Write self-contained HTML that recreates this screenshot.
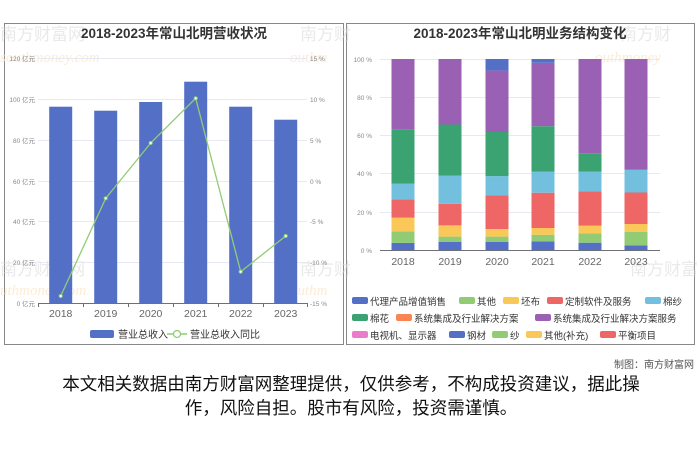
<!DOCTYPE html>
<html><head><meta charset="utf-8"><style>
html,body{margin:0;padding:0;background:#fff;}
svg{display:block;font-family:"Liberation Sans","Noto Sans CJK SC",sans-serif;}
</style></head><body>
<svg width="700" height="467" viewBox="0 0 700 467">
<rect width="700" height="467" fill="#fff"/>
<rect x="4.5" y="23.5" width="339" height="321" fill="#fff" stroke="#888" stroke-width="1"/>
<rect x="346.5" y="23.5" width="348" height="321" fill="#fff" stroke="#888" stroke-width="1"/>
<g fill="#d8d8d8" font-size="17" opacity="0.55">
<text x="0" y="40">南方财富网</text><text x="300" y="40">南方财</text><text x="620" y="40">南方财</text>
<text x="0" y="275">南方财富网</text><text x="300" y="275">南方财</text><text x="630" y="275">南方财富</text>
</g>
<g fill="#fbe3c4" font-size="15" font-style="italic" font-family="Liberation Serif,serif" opacity="0.7">
<text x="0" y="62">southmoney.com</text><text x="290" y="62">outhm</text><text x="595" y="62">outhmoney</text>
<text x="0" y="295">uthmoney.com</text><text x="290" y="295">outhm</text>
</g>
<text x="174" y="38" text-anchor="middle" font-size="13.5" font-weight="bold" fill="#333">2018-2023年常山北明营收状况</text>
<text x="520" y="38" text-anchor="middle" font-size="13.5" font-weight="bold" fill="#333">2018-2023年常山北明业务结构变化</text>
<g stroke="#e6e9f2" stroke-width="1">
<line x1="38" y1="58.5" x2="307" y2="58.5"/><line x1="38" y1="99.5" x2="307" y2="99.5"/>
<line x1="38" y1="140.5" x2="307" y2="140.5"/><line x1="38" y1="181.5" x2="307" y2="181.5"/>
<line x1="38" y1="221.5" x2="307" y2="221.5"/><line x1="38" y1="262.5" x2="307" y2="262.5"/>
</g>
<g font-size="6.5" fill="#888" text-anchor="end">
<text x="35" y="61">120 亿元</text><text x="35" y="102">100 亿元</text><text x="35" y="143">80 亿元</text>
<text x="35" y="184">60 亿元</text><text x="35" y="224">40 亿元</text><text x="35" y="265">20 亿元</text><text x="35" y="306">0 亿元</text>
</g>
<g font-size="6.5" fill="#888">
<text x="310" y="61">15 %</text><text x="310" y="102">10 %</text><text x="310" y="143">5 %</text>
<text x="310" y="184">0 %</text><text x="310" y="224">-5 %</text><text x="310" y="265">-10 %</text><text x="310" y="306">-15 %</text>
</g>
<g fill="#5470c6">
<rect x="49.2" y="106.7" width="23" height="196.3"/>
<rect x="94.2" y="110.7" width="23" height="192.3"/>
<rect x="139.2" y="102" width="23" height="201"/>
<rect x="184.2" y="81.7" width="23" height="221.3"/>
<rect x="229.2" y="106.7" width="23" height="196.3"/>
<rect x="274.2" y="119.7" width="23" height="183.3"/>
</g>
<line x1="38" y1="303.5" x2="307" y2="303.5" stroke="#6e7079"/>
<g stroke="#6e7079"><line x1="38.5" y1="303" x2="38.5" y2="307"/><line x1="83.5" y1="303" x2="83.5" y2="307"/><line x1="128.5" y1="303" x2="128.5" y2="307"/><line x1="173.5" y1="303" x2="173.5" y2="307"/><line x1="218.5" y1="303" x2="218.5" y2="307"/><line x1="263.5" y1="303" x2="263.5" y2="307"/><line x1="307.5" y1="303" x2="307.5" y2="307"/></g>
<polyline points="60.7,296 105.7,198.3 150.7,143 195.7,98.3 240.7,271.7 285.7,236" fill="none" stroke="#91cc75" stroke-width="1.3"/>
<g fill="#fff" stroke="#91cc75" stroke-width="1"><circle cx="60.7" cy="296" r="1.6"/><circle cx="105.7" cy="198.3" r="1.6"/><circle cx="150.7" cy="143" r="1.6"/><circle cx="195.7" cy="98.3" r="1.6"/><circle cx="240.7" cy="271.7" r="1.6"/><circle cx="285.7" cy="236" r="1.6"/></g>
<g font-size="10.5" fill="#666" text-anchor="middle">
<text x="60.7" y="317">2018</text><text x="105.7" y="317">2019</text><text x="150.7" y="317">2020</text><text x="195.7" y="317">2021</text><text x="240.7" y="317">2022</text><text x="285.7" y="317">2023</text>
</g>
<rect x="90" y="330" width="24" height="8" rx="2" fill="#5470c6"/>
<text x="118" y="338" font-size="10" fill="#333">营业总收入</text>
<line x1="167" y1="334" x2="187" y2="334" stroke="#91cc75" stroke-width="1.5"/><circle cx="177" cy="334" r="3.5" fill="#fff" stroke="#91cc75" stroke-width="1.3"/>
<text x="190" y="338" font-size="10" fill="#333">营业总收入同比</text>
<g stroke="#e6e9f2"><line x1="380" y1="59.5" x2="660" y2="59.5"/><line x1="380" y1="97.5" x2="660" y2="97.5"/><line x1="380" y1="135.5" x2="660" y2="135.5"/><line x1="380" y1="173.5" x2="660" y2="173.5"/><line x1="380" y1="212.5" x2="660" y2="212.5"/></g>
<g font-size="6.5" fill="#888" text-anchor="end">
<text x="372" y="62">100 %</text><text x="372" y="100">80 %</text><text x="372" y="138">60 %</text><text x="372" y="176">40 %</text><text x="372" y="215">20 %</text><text x="372" y="253">0 %</text>
</g>
<g>
<rect x="391.5" y="242.9" width="23" height="7.1" fill="#5470c6"/>
<rect x="391.5" y="231.3" width="23" height="11.6" fill="#91cc75"/>
<rect x="391.5" y="217.7" width="23" height="13.6" fill="#fac858"/>
<rect x="391.5" y="199.4" width="23" height="18.3" fill="#ee6666"/>
<rect x="391.5" y="183.7" width="23" height="15.7" fill="#73c0de"/>
<rect x="391.5" y="129.7" width="23" height="54" fill="#3ba272"/>
<rect x="391.5" y="59" width="23" height="70.7" fill="#9a60b4"/>
</g>
<g>
<rect x="438.5" y="242" width="23" height="8" fill="#5470c6"/>
<rect x="438.5" y="236.6" width="23" height="5.4" fill="#91cc75"/>
<rect x="438.5" y="225.4" width="23" height="11.2" fill="#fac858"/>
<rect x="438.5" y="203.8" width="23" height="21.6" fill="#ee6666"/>
<rect x="438.5" y="175.7" width="23" height="28.1" fill="#73c0de"/>
<rect x="438.5" y="124.5" width="23" height="51.2" fill="#3ba272"/>
<rect x="438.5" y="59" width="23" height="65.5" fill="#9a60b4"/>
</g>
<g>
<rect x="485.5" y="242" width="23" height="8" fill="#5470c6"/>
<rect x="485.5" y="236.6" width="23" height="5.4" fill="#91cc75"/>
<rect x="485.5" y="229" width="23" height="7.6" fill="#fac858"/>
<rect x="485.5" y="195.2" width="23" height="33.8" fill="#ee6666"/>
<rect x="485.5" y="176.1" width="23" height="19.1" fill="#73c0de"/>
<rect x="485.5" y="132" width="23" height="44.1" fill="#3ba272"/>
<rect x="485.5" y="70.6" width="23" height="61.4" fill="#9a60b4"/>
<rect x="485.5" y="59" width="23" height="11.6" fill="#5470c6"/>
</g>
<g>
<rect x="531.5" y="241.4" width="23" height="8.6" fill="#5470c6"/>
<rect x="531.5" y="234.7" width="23" height="6.7" fill="#91cc75"/>
<rect x="531.5" y="228" width="23" height="6.7" fill="#fac858"/>
<rect x="531.5" y="192.7" width="23" height="35.3" fill="#ee6666"/>
<rect x="531.5" y="171.7" width="23" height="21" fill="#73c0de"/>
<rect x="531.5" y="126.2" width="23" height="45.5" fill="#3ba272"/>
<rect x="531.5" y="62.8" width="23" height="63.4" fill="#9a60b4"/>
<rect x="531.5" y="59" width="23" height="3.8" fill="#5470c6"/>
</g>
<g>
<rect x="578.5" y="242.7" width="23" height="7.3" fill="#5470c6"/>
<rect x="578.5" y="233.4" width="23" height="9.3" fill="#91cc75"/>
<rect x="578.5" y="225.7" width="23" height="7.7" fill="#fac858"/>
<rect x="578.5" y="191.2" width="23" height="34.5" fill="#ee6666"/>
<rect x="578.5" y="171.7" width="23" height="19.5" fill="#73c0de"/>
<rect x="578.5" y="153.2" width="23" height="18.5" fill="#3ba272"/>
<rect x="578.5" y="59" width="23" height="94.2" fill="#9a60b4"/>
</g>
<g>
<rect x="624.5" y="245.4" width="23" height="4.6" fill="#5470c6"/>
<rect x="624.5" y="231.7" width="23" height="13.7" fill="#91cc75"/>
<rect x="624.5" y="224" width="23" height="7.7" fill="#fac858"/>
<rect x="624.5" y="192.5" width="23" height="31.5" fill="#ee6666"/>
<rect x="624.5" y="169.8" width="23" height="22.7" fill="#73c0de"/>
<rect x="624.5" y="59" width="23" height="110.8" fill="#9a60b4"/>
</g>
<line x1="380" y1="250.5" x2="660" y2="250.5" stroke="#6e7079"/>
<g font-size="10.5" fill="#666" text-anchor="middle">
<text x="403" y="265">2018</text><text x="450" y="265">2019</text><text x="497" y="265">2020</text><text x="543" y="265">2021</text><text x="590" y="265">2022</text><text x="636" y="265">2023</text>
</g>
<g font-size="9.5" fill="#333">
<rect x="352" y="297" width="16" height="7" rx="2" fill="#5470c6"/><text x="370" y="305">代理产品增值销售</text>
<rect x="459" y="297" width="16" height="7" rx="2" fill="#91cc75"/><text x="477" y="305">其他</text>
<rect x="503" y="297" width="16" height="7" rx="2" fill="#fac858"/><text x="521" y="305">坯布</text>
<rect x="547" y="297" width="16" height="7" rx="2" fill="#ee6666"/><text x="565" y="305">定制软件及服务</text>
<rect x="645" y="297" width="16" height="7" rx="2" fill="#73c0de"/><text x="663" y="305">棉纱</text>
<rect x="352" y="314" width="16" height="7" rx="2" fill="#3ba272"/><text x="370" y="322">棉花</text>
<rect x="396" y="314" width="16" height="7" rx="2" fill="#fc8452"/><text x="414" y="322">系统集成及行业解决方案</text>
<rect x="535" y="314" width="16" height="7" rx="2" fill="#9a60b4"/><text x="553" y="322">系统集成及行业解决方案服务</text>
<rect x="352" y="331" width="16" height="7" rx="2" fill="#ea7ccc"/><text x="370" y="339">电视机、显示器</text>
<rect x="449" y="331" width="16" height="7" rx="2" fill="#5470c6"/><text x="467" y="339">钢材</text>
<rect x="492" y="331" width="16" height="7" rx="2" fill="#91cc75"/><text x="510" y="339">纱</text>
<rect x="526" y="331" width="16" height="7" rx="2" fill="#fac858"/><text x="544" y="339">其他(补充)</text>
<rect x="600" y="331" width="16" height="7" rx="2" fill="#ee6666"/><text x="618" y="339">平衡项目</text>
</g>
<text x="694" y="368" text-anchor="end" font-size="10" fill="#555">制图：南方财富网</text>
<g font-size="17.5" fill="#111" text-anchor="middle">
<text x="351" y="390">本文相关数据由南方财富网整理提供，仅供参考，不构成投资建议，据此操</text>
<text x="351" y="414">作，风险自担。股市有风险，投资需谨慎。</text>
</g>
</svg>
</body></html>
